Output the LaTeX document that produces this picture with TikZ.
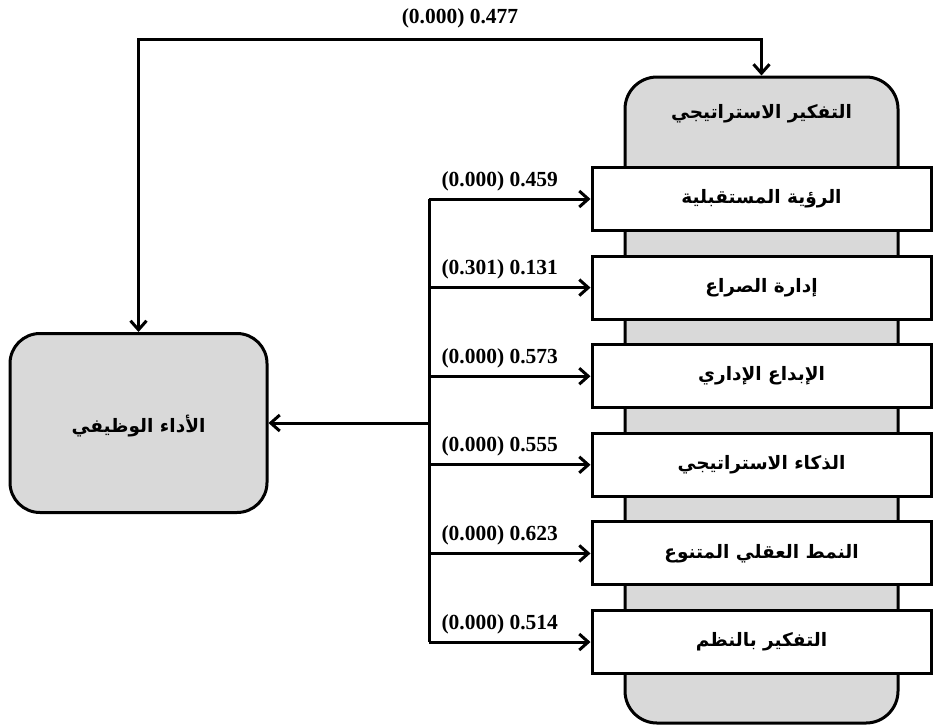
\documentclass[tikz,border=0pt]{standalone}
\usepackage{fontspec}
\setmainfont{Liberation Serif}
\newfontfamily\arabicfont[Script=Arabic]{DejaVu Sans}
\TeXXeTstate=1
\usetikzlibrary{arrows.meta}
\begin{document}
\begin{tikzpicture}[x=1pt,y=-1pt,
  line width=3pt,
  arr/.style={-{Straight Barb[length=9pt,width=16pt]}},
  arrboth/.style={{Straight Barb[length=9pt,width=16pt]}-{Straight Barb[length=9pt,width=16pt]}},
  graybox/.style={draw=black,fill=gray!30,rounded corners=32pt,inner sep=0pt},
  dimbox/.style={draw=black,fill=white,minimum width=339pt,minimum height=63pt,inner sep=0pt,
     font=\arabicfont\bfseries\fontsize{18.5}{22}\selectfont},
  numlbl/.style={font=\bfseries\fontsize{21.5}{24}\selectfont,inner sep=0pt},
  artxt/.style={font=\arabicfont\bfseries\fontsize{18.5}{22}\selectfont,inner sep=0pt}
]
\useasboundingbox (0,0) rectangle (933,725);
% big box
\node[graybox,minimum width=273pt,minimum height=646pt] (big) at (761.5,400) {};
\node[artxt] (title) at (761.5,114) {\beginR التفكير الاستراتيجي\endR};
% left box
\node[graybox,rounded corners=30pt,minimum width=257pt,minimum height=179pt] (perf) at (138.5,423) {};
\node[artxt] (perftxt) at (138.5,426) {\beginR الأداء الوظيفي\endR};
% inner boxes
\node[dimbox] (b1) at (761.5,199) {\raisebox{-1pt}{\beginR الرؤية المستقبلية\endR}};
\node[dimbox] (b2) at (761.5,287.6) {\raisebox{-1pt}{\beginR إدارة الصراع\endR}};
\node[dimbox] (b3) at (761.5,376.2) {\raisebox{-1pt}{\beginR الإبداع الإداري\endR}};
\node[dimbox] (b4) at (761.5,464.8) {\raisebox{-1pt}{\beginR الذكاء الاستراتيجي\endR}};
\node[dimbox] (b5) at (761.5,553.4) {\raisebox{-1pt}{\beginR النمط العقلي المتنوع\endR}};
\node[dimbox] (b6) at (761.5,642) {\raisebox{-1pt}{\beginR التفكير بالنظم\endR}};
% trunk
\coordinate (t1) at (429,199);
\coordinate (t2) at (429,287.6);
\coordinate (t3) at (429,376.2);
\coordinate (t4) at (429,464.8);
\coordinate (t5) at (429,553.4);
\coordinate (t6) at (429,642);
\coordinate (tm) at (429,423);
\draw (t1) -- (t6);
\foreach \i in {1,...,6} { \draw[arr] (t\i) -- (b\i.west); }
\draw[arr] (tm) -- (perf.east);
% labels
\node[numlbl,anchor=base west] (l1) at (440,186) {(0.000) 0.459};
\node[numlbl,anchor=base west] (l2) at (440,274.6) {(0.301) 0.131};
\node[numlbl,anchor=base west] (l3) at (440,363.2) {(0.000) 0.573};
\node[numlbl,anchor=base west] (l4) at (440,451.8) {(0.000) 0.555};
\node[numlbl,anchor=base west] (l5) at (440,540.4) {(0.000) 0.623};
\node[numlbl,anchor=base west] (l6) at (440,629) {(0.000) 0.514};
% top connector
\coordinate (tl) at (138.5,40);
\draw[arrboth] (perf.north) -- (tl) -| (big.north);
\node[numlbl,anchor=base] (l0) at (460,24) {(0.000) 0.477};
\end{tikzpicture}
\end{document}
